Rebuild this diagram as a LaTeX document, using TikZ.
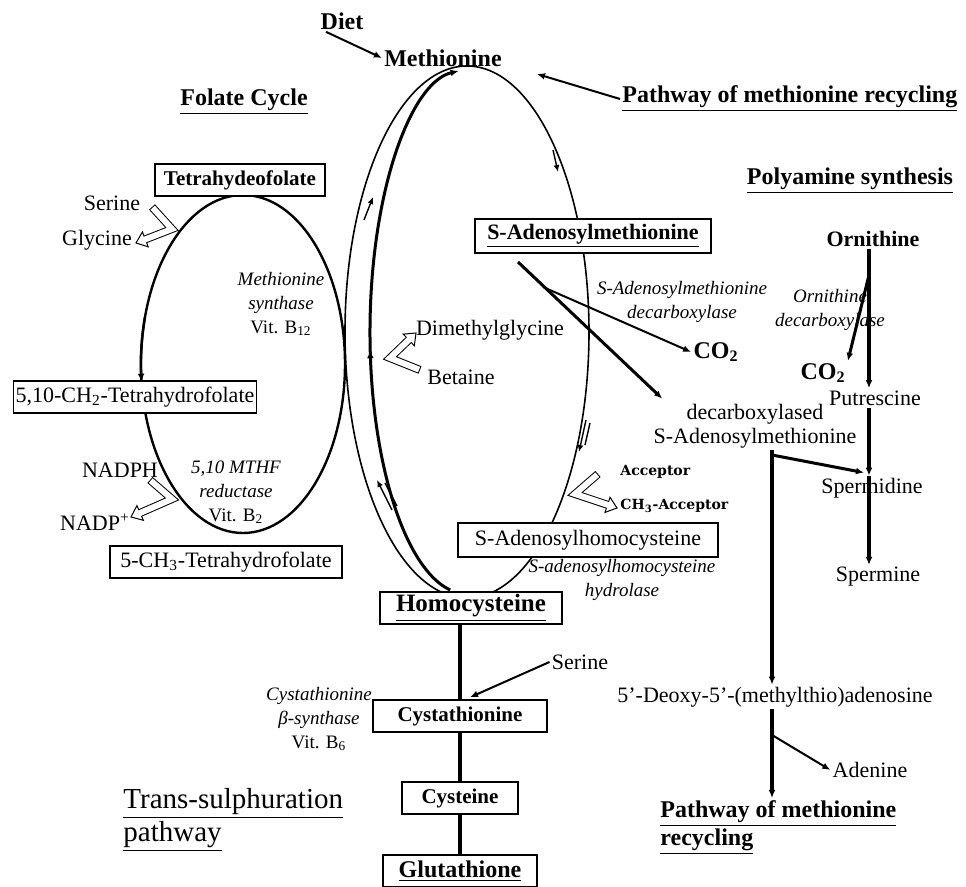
\documentclass[tikz,border=0pt]{standalone}
\usepackage{fontspec}
\setmainfont{Liberation Serif}
\newfontfamily\accfont{DejaVu Serif}
\usetikzlibrary{arrows.meta,calc,decorations.markings}

% open bent block arrow: start, bend, tip
\newcommand{\hollowarrow}[3]{%
  \coordinate (hb) at ($(#3)!5pt!(#2)$);
  \draw[line width=4pt, line join=miter] (#1) -- (#2) -- (hb);
  \filldraw[fill=white, line width=0.5pt, line join=miter]
    ($(hb)!4pt!90:(#3)$) -- (#3) -- ($(hb)!4pt!-90:(#3)$) -- cycle;
  \draw[line width=3pt, white, line join=miter, shorten <=0.5pt, shorten >=-0.7pt]
    (#1) -- (#2) -- (hb);
}

\begin{document}
\begin{tikzpicture}[x=0.5pt, y=-0.5pt,
    >={Latex[length=4pt,width=3.4pt]},
    txt/.style={inner sep=1pt, font=\fontsize{11}{12}\selectfont},
    ttl/.style={inner sep=1pt, font=\fontsize{12}{14}\selectfont\bfseries},
    bld/.style={inner sep=1pt, font=\fontsize{10.5}{12}\selectfont\bfseries},
    enz/.style={inner sep=1pt, align=center, font=\fontsize{9.5}{12}\selectfont\itshape},
    acc/.style={inner sep=1pt, font=\accfont\fontsize{7}{9}\selectfont\bfseries},
    nbox/.style={draw, fill=white, line width=0.7pt, inner xsep=2pt, minimum height=16pt},
    cyc/.style={line width=0.8pt},
    tsbar/.style={line width=1.6pt},
    lnk/.style={line width=1pt, ->},
    pabar/.style={line width=2pt, ->},
    tiny/.style={line width=0.7pt, -{Latex[length=3.5pt,width=3pt]}}]

\useasboundingbox (0,0) rectangle (966,887);

% methionine cycle and folate cycle
\draw[cyc] (467,332) ellipse (122 and 266);
\draw[line width=1.5pt, ->, postaction=decorate,
      decoration={markings, mark=at position 0.46 with {\arrow{Latex[length=4pt,width=3.4pt]}}}]
  (467,332) ++(100:97 and 262) arc[start angle=100, end angle=265, x radius=97, y radius=262];
\draw[line width=1.2pt] (243,364) ellipse (102 and 169);
\draw[line width=1.2pt, ->] (243,364) ++(196:102 and 169)
  arc[start angle=196, end angle=174, x radius=102, y radius=169];

% small arrows along the cycle
\draw[tiny] (364,220) -- (373,197);
\draw[tiny] (553,150) -- (558,172);
\draw[tiny] (392,510) -- (377,480);
\draw[line width=0.7pt] (397,506) -- (385,483);
\draw[tiny] (586,420) -- (579,452);
\draw[line width=0.7pt] (590,423) -- (585,445);

% titles
\node[ttl] (diet) at (342,21) {Diet};
\node[ttl] (meth) at (443,58) {Methionine};
\node[ttl, anchor=west] (recyc) at (620,99) {\underline{Pathway of methionine recycling}};
\node[ttl] (folate) at (244,102) {\underline{Folate Cycle}};
\node[ttl] (poly) at (850,181) {\underline{Polyamine synthesis}};

% folate cycle
\node[nbox, bld, minimum width=85pt] (thf) at (240,180) {Tetrahydeofolate};
\node[txt] (ser1) at (112,203) {Serine};
\node[txt] (gly) at (97,240) {Glycine};
\node[enz] (ms) at (281,304) {Methionine\\synthase\\\textup{Vit. B\textsubscript{12}}};
\node[nbox, txt] (ch2) at (135,397) {5,10-CH\textsubscript{2}-Tetrahydrofolate};
\node[txt] (nadph) at (120,470) {NADPH};
\node[txt] (nadp) at (95,522) {NADP\textsuperscript{+}};
\node[enz] (mthfr) at (236,492) {5,10 MTHF\\reductase\\\textup{Vit. B\textsubscript{2}}};
\node[nbox, txt, minimum width=116pt] (ch3) at (226,562) {5-CH\textsubscript{3}-Tetrahydrofolate};

% methionine cycle
\node[txt] (dmg) at (490,330) {Dimethylglycine};
\node[txt] (bet) at (461,377) {Betaine};
\node[nbox, minimum width=118pt, minimum height=17pt, inner sep=1pt,
      font=\fontsize{11}{12}\selectfont\bfseries] (sam) at (593,236) {\underline{S-Adenosylmethionine}};
\node[enz] (samdc) at (682,302) {S-Adenosylmethionine\\decarboxylase};
\node[ttl] (co2a) at (716,352) {CO\textsubscript{2}};
\node[txt, align=center] (dcsam) at (755,426) {decarboxylased\\S-Adenosylmethionine};
\node[acc, anchor=west] (acc) at (618,472) {Acceptor};
\node[acc, anchor=west] (ch3acc) at (618,506) {CH\textsubscript{3}-Acceptor};
\node[nbox, txt, minimum width=130pt, minimum height=17pt] (sah) at (588,540) {S-Adenosylhomocysteine};
\node[enz] (sahh) at (622,580) {S-adenosylhomocysteine\\hydrolase};
\node[nbox, ttl, minimum width=91pt, font=\fontsize{12.5}{14}\selectfont\bfseries] (hcy) at (471,608) {\underline{Homocysteine}};

% trans-sulphuration
\node[txt] (ser2) at (580,662) {Serine};
\node[nbox, bld, minimum width=87pt] (cysta) at (460,716) {Cystathionine};
\node[enz] (cbs) at (319,719) {Cystathionine\\β-synthase\\\textup{Vit. B\textsubscript{6}}};
\node[nbox, bld, minimum width=58pt] (cys) at (460,798) {Cysteine};
\node[nbox, ttl, minimum width=77pt] (gsh) at (460,871) {\underline{Glutathione}};
\node[anchor=north west, align=left, inner sep=0pt, font=\fontsize{14.5}{16.5}\selectfont] (trans) at (123,788)
  {\underline{Trans-sulphuration}\\\underline{pathway}};

% polyamines
\node[ttl, font=\fontsize{11}{12}\selectfont\bfseries] (orn) at (873,239) {Ornithine};
\node[enz] (odc) at (830,310) {Ornithine\\decarboxylase};
\node[ttl] (co2b) at (823,373) {CO\textsubscript{2}};
\node[txt] (put) at (875,398) {Putrescine};
\node[txt] (spd) at (872,488) {Spermidine};
\node[txt] (spm) at (878,577) {Spermine};
\node[txt] (mta) at (775,697) {5’-Deoxy-5’-(methylthio)adenosine};
\node[txt] (ade) at (870,770) {Adenine};
\node[ttl, anchor=north west, align=left] (recyc2) at (658,798)
  {\underline{Pathway of methionine}\\\underline{recycling}};

% connectors
\coordinate (spine) at (869,0);
\coordinate (mtal) at (772,0);
\coordinate (tsl) at (460,0);
\coordinate (recin) at (537,74);
\coordinate (samout) at (518,262);
\coordinate (samfork) at (543,287);
\coordinate (odcfork) at (869,275);
\coordinate (dcfork) at (772,455);
\coordinate (mtafork) at (772,735);

\draw[lnk] ([xshift=-8pt]diet.south) -- (meth.west);
\draw[lnk] (recyc.west) -- (recin);
\draw[line width=1.5pt, ->] (samout) -- ($(dcsam.north west)+(11,-3)$);
\draw[lnk] (samfork) -- (co2a.west);

\draw[tsbar] (hcy.south -| tsl) -- (cysta.north -| tsl);
\draw[tsbar] (cysta.south -| tsl) -- (cys.north -| tsl);
\draw[tsbar] (cys.south -| tsl) -- (gsh.north -| tsl);
\draw[lnk] (ser2.west) -- ($(cysta.north)+(10,-2)$);

\draw[pabar] (orn.south -| spine) -- (put.north -| spine);
\draw[pabar] (put.south -| spine) -- (spd.north -| spine);
\draw[pabar] (spd.north -| spine) -- (spm.north -| spine);
\draw[line width=1.5pt, ->] (odcfork) -- (co2b.north east);
\draw[pabar] (dcsam.south -| mtal) -- (mta.north -| mtal);
\draw[line width=1.5pt, ->] (dcfork) -- ($(spd.north -| spine)+(-5,-3)$);
\draw[pabar] (mta.south -| mtal) -- (recyc2.north -| mtal);
\draw[lnk] (mtafork) -- (ade.west);

% open bent arrows
\hollowarrow{152,207}{172,229}{136,243}
\hollowarrow{420,370}{390,358}{416,333}
\hollowarrow{150,480}{172,499}{131,517}
\hollowarrow{598,474}{575,494}{617,508}

\end{tikzpicture}
\end{document}
